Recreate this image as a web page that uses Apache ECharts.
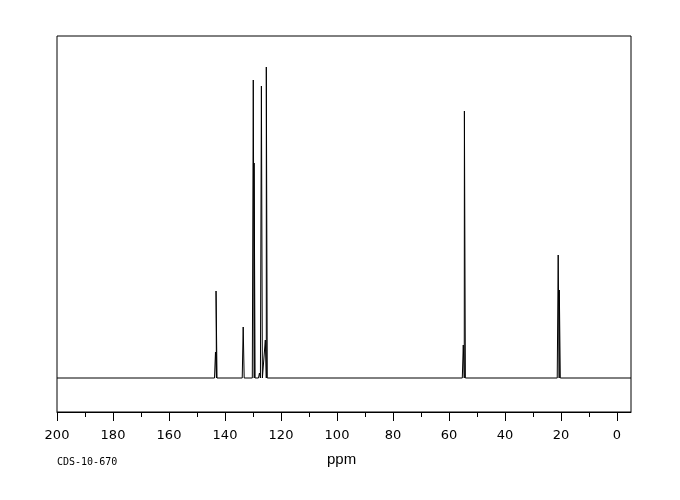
<!DOCTYPE html>
<html>
<head>
<meta charset="utf-8">
<script src="https://cdn.jsdelivr.net/npm/echarts@6/dist/echarts.min.js"></script>
<style>html,body{margin:0;padding:0;background:#fff}#c{width:680px;height:500px}</style>
</head>
<body>
<div id="c"></div>
<script>
// Peak positions (ppm) and heights (arbitrary intensity units, baseline = 0)
const peakPpm    = [143.4, 143.2, 133.5, 129.9, 129.6, 127.7, 127.0, 125.6, 125.25, 54.9, 54.5, 21.0, 20.6];
const peakHeight = [26,    87,    51,    298,   215,   5,     292,   38,    311,    33,   267,  123,  88];
const majorTicks = [0, 20, 40, 60, 80, 100, 120, 140, 160, 180, 200];
const minorTicks = [10, 30, 50, 70, 90, 110, 130, 150, 170, 190];
const xRange = [-5, 200];
const yRange = [-34, 342];
const axisName = 'ppm';
const sampleId = 'CDS-10-670';

const halfBase = 0.35;
const line = [[xRange[1], 0]];
peakPpm.forEach((p, i) => {
  line.push([p + halfBase, 0], [p, peakHeight[i]], [p - halfBase, 0]);
});
line.push([xRange[0], 0]);

const chart = echarts.init(document.getElementById('c'), null, {renderer: 'canvas'});
const labelStyle = {color: '#000', fontFamily: 'DejaVu Sans', fontSize: 13};
chart.setOption({
  animation: false,
  backgroundColor: '#fff',
  grid: {left: 57, right: 49, top: 36, bottom: 88, show: true, borderColor: '#000', borderWidth: 1, backgroundColor: 'transparent'},
  xAxis: [
    {
      type: 'value', min: xRange[0], max: xRange[1], inverse: true, position: 'bottom',
      axisLine: {show: true, onZero: false, lineStyle: {color: '#000', width: 1}},
      axisTick: {show: true, inside: false, length: 9, customValues: majorTicks, lineStyle: {color: '#000', width: 1}},
      axisLabel: Object.assign({show: true, margin: 17, customValues: majorTicks}, labelStyle),
      splitLine: {show: false}
    },
    {
      type: 'value', min: xRange[0], max: xRange[1], inverse: true, position: 'bottom', offset: 0,
      axisLine: {show: false, onZero: false},
      axisTick: {show: true, inside: false, length: 5, customValues: minorTicks, lineStyle: {color: '#000', width: 1}},
      axisLabel: {show: false},
      splitLine: {show: false}
    }
  ],
  yAxis: {type: 'value', min: yRange[0], max: yRange[1], show: false},
  series: [{
    type: 'line', xAxisIndex: 0, data: line, symbol: 'none', smooth: false,
    lineStyle: {color: '#000', width: 1}, clip: true
  }],
  graphic: [
    {type: 'text', left: 327, top: 452, style: {text: axisName, fill: '#000', font: '15px "Liberation Sans"'}},
    {type: 'text', left: 57, top: 457, style: {text: sampleId, fill: '#000', font: '10px "DejaVu Sans Mono"'}}
  ]
});
</script>
</body>
</html>
